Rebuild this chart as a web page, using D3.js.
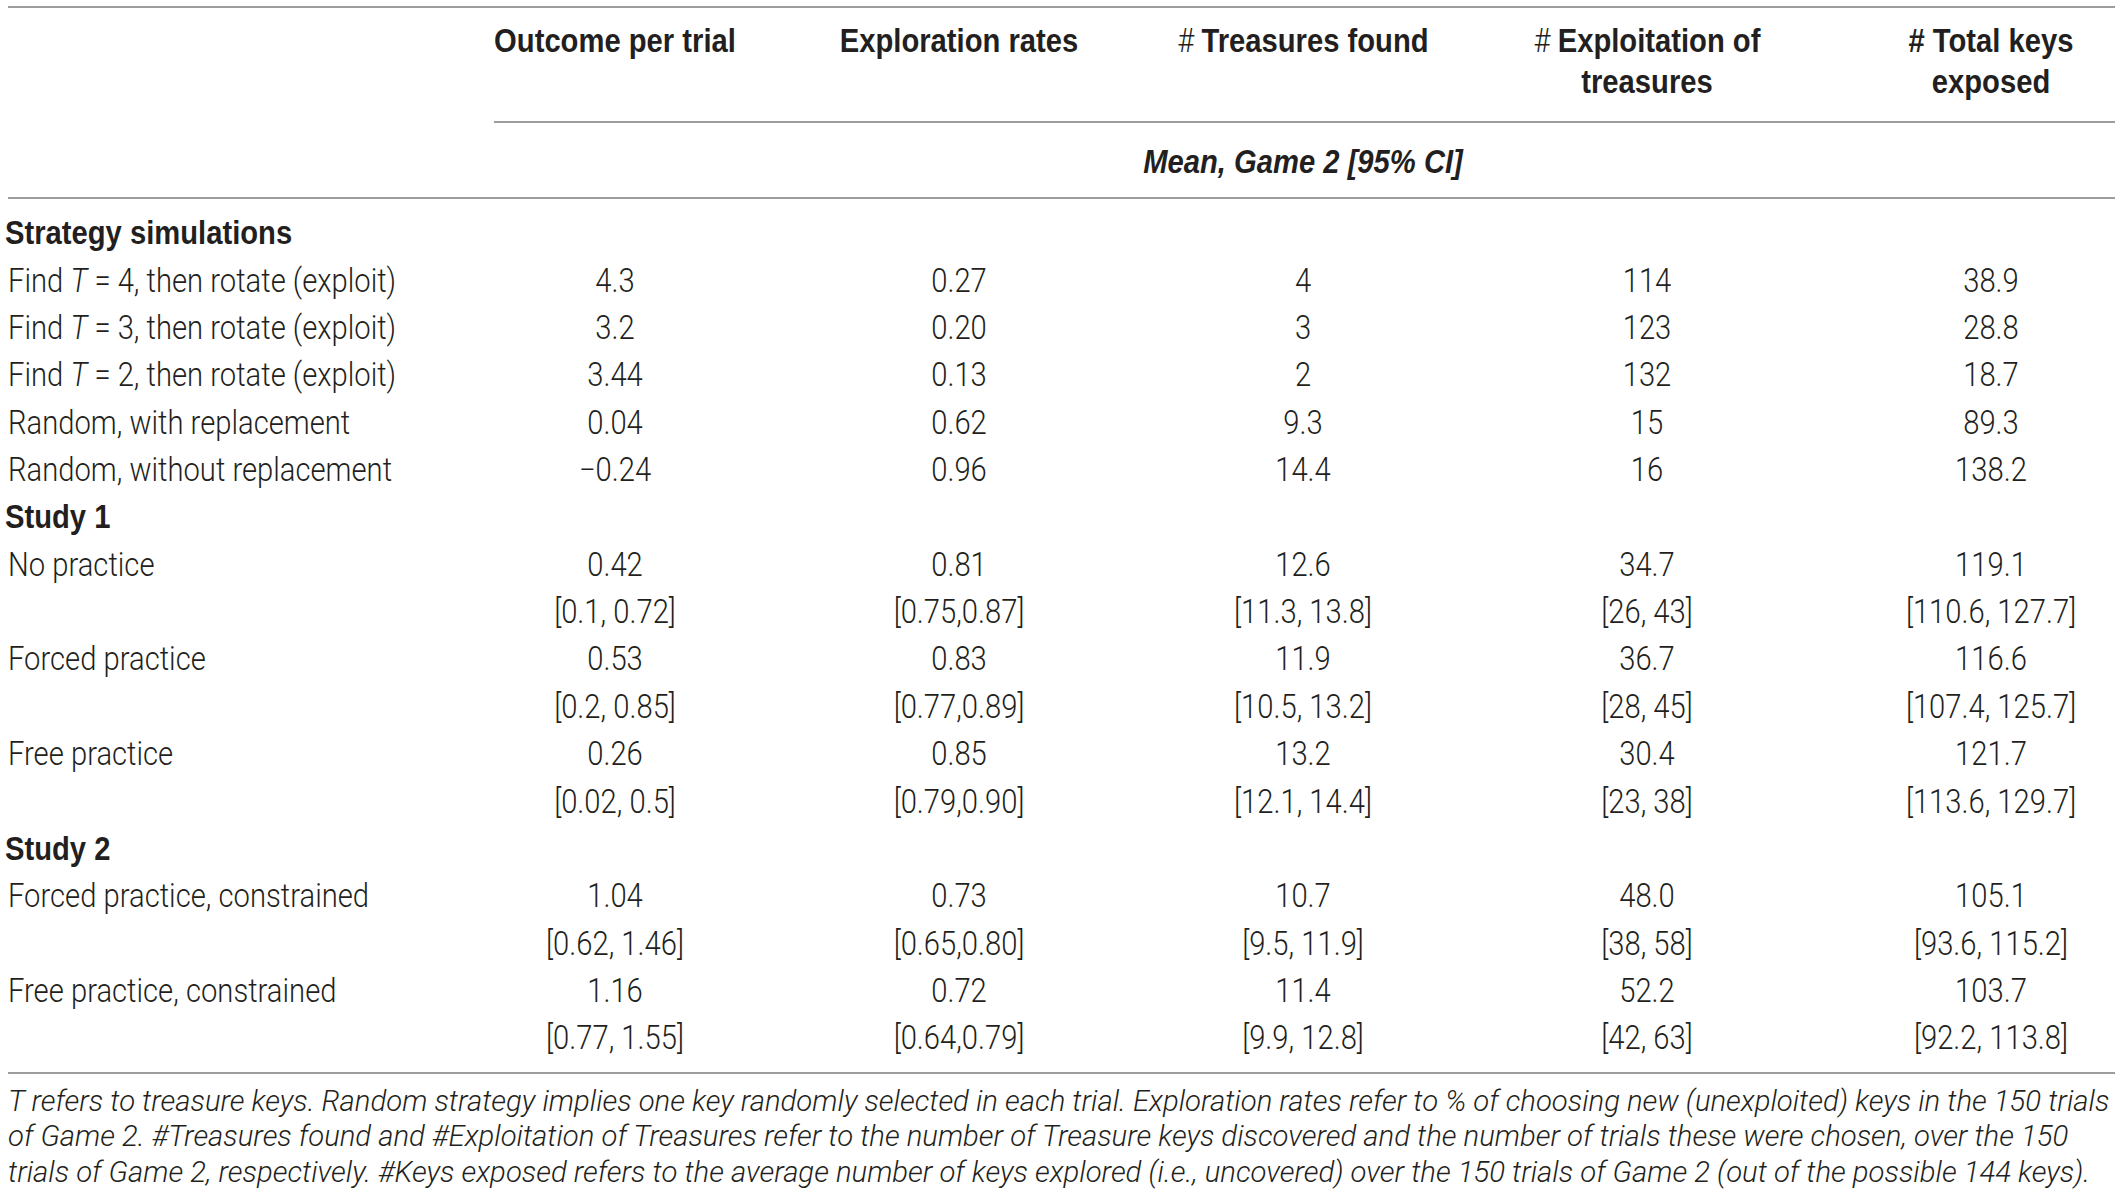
<!DOCTYPE html>
<html>
<head>
<meta charset="utf-8">
<title>Game 2 strategy table</title>
<script src="https://d3js.org/d3.v7.min.js"></script>
<style>
  body { margin: 0; background: #fff; }
</style>
</head>
<body>
<script>
// ---- table content ----
var columnTitles = [["Outcome per trial"], ["Exploration rates"], ["# Treasures found"], ["# Exploitation of", "treasures"], ["# Total keys", "exposed"]];
var hashLight = [false, false, true, true, false];
var subTitle = "Mean, Game 2 [95% CI]";

var sectionNames = ["Strategy simulations", "Study 1", "Study 2"];
var rowLabels = [
  "Find T = 4, then rotate (exploit)",
  "Find T = 3, then rotate (exploit)",
  "Find T = 2, then rotate (exploit)",
  "Random, with replacement",
  "Random, without replacement",
  "No practice",
  "Forced practice",
  "Free practice",
  "Forced practice, constrained",
  "Free practice, constrained"
];
var rowSection = [0, 0, 0, 0, 0, 1, 1, 1, 2, 2];

var outcomeMean = ["4.3", "3.2", "3.44", "0.04", "\u22120.24", "0.42", "0.53", "0.26", "1.04", "1.16"];
var outcomeCI = ["", "", "", "", "", "[0.1, 0.72]", "[0.2, 0.85]", "[0.02, 0.5]", "[0.62, 1.46]", "[0.77, 1.55]"];
var explorationMean = ["0.27", "0.20", "0.13", "0.62", "0.96", "0.81", "0.83", "0.85", "0.73", "0.72"];
var explorationCI = ["", "", "", "", "", "[0.75,0.87]", "[0.77,0.89]", "[0.79,0.90]", "[0.65,0.80]", "[0.64,0.79]"];
var treasuresMean = ["4", "3", "2", "9.3", "14.4", "12.6", "11.9", "13.2", "10.7", "11.4"];
var treasuresCI = ["", "", "", "", "", "[11.3, 13.8]", "[10.5, 13.2]", "[12.1, 14.4]", "[9.5, 11.9]", "[9.9, 12.8]"];
var exploitMean = ["114", "123", "132", "15", "16", "34.7", "36.7", "30.4", "48.0", "52.2"];
var exploitCI = ["", "", "", "", "", "[26, 43]", "[28, 45]", "[23, 38]", "[38, 58]", "[42, 63]"];
var keysMean = ["38.9", "28.8", "18.7", "89.3", "138.2", "119.1", "116.6", "121.7", "105.1", "103.7"];
var keysCI = ["", "", "", "", "", "[110.6, 127.7]", "[107.4, 125.7]", "[113.6, 129.7]", "[93.6, 115.2]", "[92.2, 113.8]"];

var footnote = [
  "T refers to treasure keys. Random strategy implies one key randomly selected in each trial. Exploration rates refer to % of choosing new (unexploited) keys in the 150 trials",
  "of Game 2. #Treasures found and #Exploitation of Treasures refer to the number of Treasure keys discovered and the number of trials these were chosen, over the 150",
  "trials of Game 2, respectively. #Keys exposed refers to the average number of keys explored (i.e., uncovered) over the 150 trials of Game 2 (out of the possible 144 keys)."
];

// ---- layout ----
var width = 2121, height = 1197;
var fs = 29.2, fsNote = 29.3, sy = 1.12;
var ink = "#231f20", rule = "#9d9d9d";
var lightFont = "Roboto, 'Liberation Sans', sans-serif";
var boldFont = "'Liberation Sans', Arial, sans-serif";

var meanCols = [outcomeMean, explorationMean, treasuresMean, exploitMean, keysMean];
var ciCols = [outcomeCI, explorationCI, treasuresCI, exploitCI, keysCI];

// build row list: section headers, mean rows, CI rows
var rows = [];
var lastSection = -1;
rowLabels.forEach(function(label, i) {
  if (rowSection[i] !== lastSection) {
    rows.push({type: "section", text: sectionNames[rowSection[i]]});
    lastSection = rowSection[i];
  }
  rows.push({type: "mean", text: label, i: i});
  if (outcomeCI[i] !== "") rows.push({type: "ci", i: i});
});

var x = d3.scalePoint().domain(d3.range(columnTitles.length)).range([615, 1991]);
var y = d3.scaleLinear().domain([0, rows.length - 1]).range([232.5, 1037.5]);

var svg = d3.select("body").append("svg")
  .attr("width", width)
  .attr("height", height);

// text placed by its visual centre, slightly stretched vertically like the source
function addText(cx, cy, size, anchor, stretch) {
  var k = stretch === undefined ? sy : stretch;
  return svg.append("text")
    .attr("transform", "translate(" + cx + "," + (cy + 0.36 * size * k) + ") scale(1," + k + ")")
    .attr("text-anchor", anchor)
    .style("font-size", size + "px")
    .style("fill", ink);
}

// horizontal rules
var rules = [
  {y: 7, x1: 8, x2: 2115},
  {y: 122, x1: 494, x2: 2115},
  {y: 198, x1: 8, x2: 2115},
  {y: 1073, x1: 8, x2: 2115}
];
svg.selectAll("line.rule").data(rules).enter().append("line")
  .attr("class", "rule")
  .attr("x1", function(d) { return d.x1; })
  .attr("x2", function(d) { return d.x2; })
  .attr("y1", function(d) { return d.y; })
  .attr("y2", function(d) { return d.y; })
  .attr("stroke", rule)
  .attr("stroke-width", 2);

// column headers
columnTitles.forEach(function(lines, c) {
  lines.forEach(function(line, k) {
    var t = addText(x(c), 40.5 + k * 40.5, fs, "middle")
      .style("font-family", boldFont)
      .style("font-weight", 700);
    if (line.indexOf("# ") === 0 && hashLight[c]) {
      t.append("tspan").style("font-family", lightFont).style("font-weight", 300).text("# ");
      t.append("tspan").text(line.slice(2));
    } else {
      t.text(line);
    }
  });
});

addText(x(2), 161, fs, "middle")
  .style("font-family", boldFont)
  .style("font-weight", 700)
  .style("font-style", "italic")
  .text(subTitle);

// body rows
rows.forEach(function(r, j) {
  var cy = y(j);
  if (r.type === "section") {
    addText(5, cy, fs, "start")
      .style("font-family", boldFont)
      .style("font-weight", 700)
      .text(r.text);
    return;
  }
  if (r.type === "mean") {
    var t = addText(8, cy, fs, "start")
      .style("font-family", lightFont)
      .style("font-weight", 300);
    var m = r.text.match(/^(Find )T( .*)$/);
    if (m) {
      t.append("tspan").text(m[1]);
      t.append("tspan").style("font-style", "italic").text("T");
      t.append("tspan").text(m[2]);
    } else {
      t.text(r.text);
    }
  }
  var src = r.type === "mean" ? meanCols : ciCols;
  src.forEach(function(col, c) {
    addText(x(c), cy, fs, "middle")
      .style("font-family", lightFont)
      .style("font-weight", 300)
      .text(col[r.i]);
  });
});

// footnote
footnote.forEach(function(line, k) {
  addText(8, 1100 + k * 35.5, fsNote, "start", 1)
    .style("font-family", lightFont)
    .style("font-weight", 300)
    .style("font-style", "italic")
    .text(line);
});
</script>
</body>
</html>
